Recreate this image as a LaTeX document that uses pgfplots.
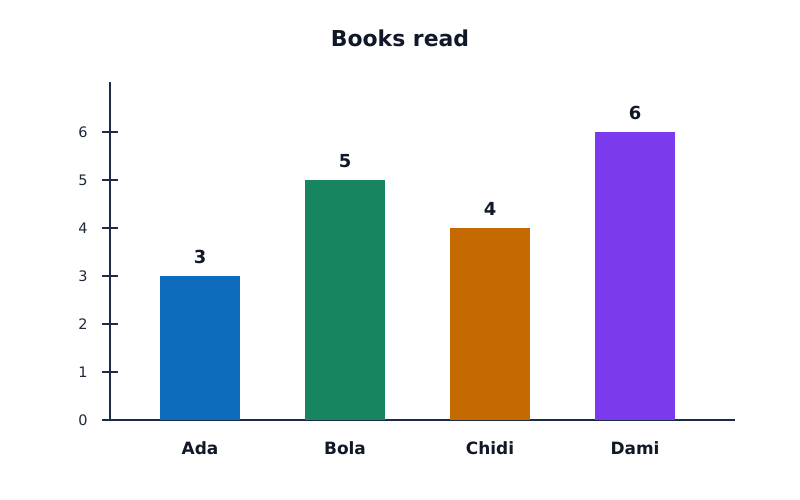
\documentclass[border=0pt]{standalone}
\usepackage{pgfplots}
\pgfplotsset{compat=1.18}
\usepackage{fontspec}
\setmainfont{DejaVu Sans}
\definecolor{axiscol}{HTML}{1B2B48}
\definecolor{textcol}{HTML}{111827}
\definecolor{ticktext}{HTML}{1F2937}
\definecolor{cblue}{HTML}{0F6CBD}
\definecolor{cgreen}{HTML}{178560}
\definecolor{corange}{HTML}{C46A00}
\definecolor{cpurple}{HTML}{7C3AED}
\begin{document}
\begin{tikzpicture}[x=1bp,y=1bp]
\path[fill=white] (0,0) rectangle (800,500);
\node[font=\fontsize{22}{26}\selectfont\bfseries, text=textcol] at (400,462) {Books read};
\begin{axis}[
  at={(110bp,80bp)}, anchor=south west,
  scale only axis,
  width=625bp, height=338bp,
  xmin=-0.6207, xmax=3.6897,
  ymin=0, ymax=7.0417,
  axis x line*=bottom, axis y line*=left,
  axis line style={draw=axiscol, line width=2.8bp, -},
  ybar, bar width=80bp, bar shift=0pt,
  xtick={0,1,2,3},
  xticklabels={Ada,Bola,Chidi,Dami},
  major x tick style={draw=none},
  x tick label style={font=\fontsize{17}{20}\selectfont\bfseries, text=textcol, yshift=-10bp},
  ytick={0,1,2,3,4,5,6},
  y tick style={draw=axiscol, line width=2bp},
  tick align=center,
  major tick length=16bp,
  /pgf/number format/assume math mode=true,
  y tick label style={font=\fontsize{14.5}{17}\selectfont, text=ticktext, xshift=-11bp},
  nodes near coords,
  every node near coord/.append style={font=\fontsize{18}{21}\selectfont\bfseries, text=textcol, yshift=9bp},
  clip=false,
]
\addplot[fill=cblue, draw=none] coordinates {(0,3)};
\addplot[fill=cgreen, draw=none] coordinates {(1,5)};
\addplot[fill=corange, draw=none] coordinates {(2,4)};
\addplot[fill=cpurple, draw=none] coordinates {(3,6)};
\end{axis}
\end{tikzpicture}
\end{document}
